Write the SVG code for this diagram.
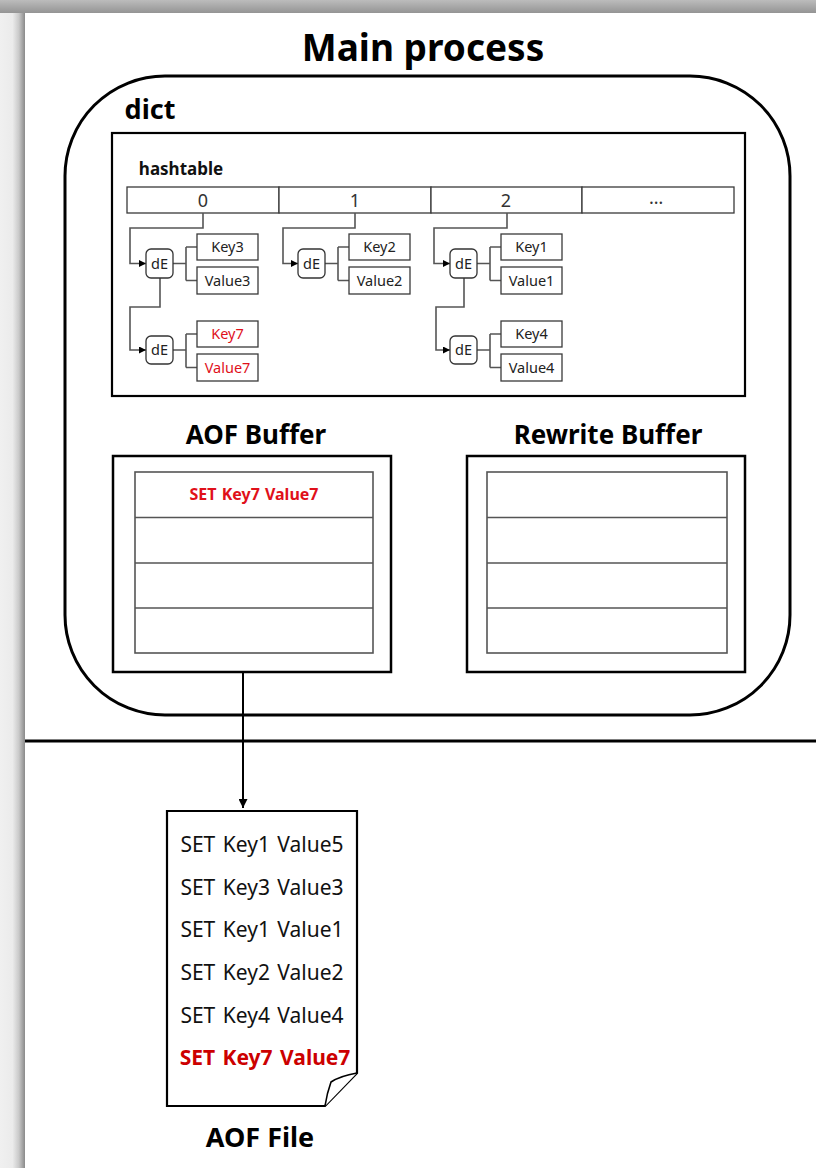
<svg xmlns="http://www.w3.org/2000/svg" width="816" height="1168" viewBox="0 0 816 1168">
<defs>
<linearGradient id="gTop" x1="0" y1="0" x2="0" y2="1"><stop offset="0" stop-color="#bcbcbc"/><stop offset="1" stop-color="#949494"/></linearGradient>
<linearGradient id="gLeft" x1="0" y1="0" x2="1" y2="0"><stop offset="0" stop-color="#f0f0f0"/><stop offset="0.5" stop-color="#ebebeb"/><stop offset="0.75" stop-color="#cacaca"/><stop offset="1" stop-color="#8a8a8a"/></linearGradient>
<marker id="arrS" viewBox="0 0 10 10" refX="10" refY="5" markerWidth="7" markerHeight="7" markerUnits="userSpaceOnUse" orient="auto"><path d="M0,0 L10,5 L0,10 Z" fill="#000"/></marker>
<marker id="arrL" viewBox="0 0 10 10" refX="10" refY="5" markerWidth="9" markerHeight="9" markerUnits="userSpaceOnUse" orient="auto"><path d="M0,0 L10,5 L0,10 Z" fill="#000"/></marker>
</defs>
<style>
text{font-family:"Noto Sans","Open Sans","Liberation Sans",sans-serif;text-anchor:middle}
.b{font-weight:bold}
.cell{fill:#fff;stroke:#3a3a3a;stroke-width:1.3}
.de{fill:#fff;stroke:#333;stroke-width:1.3}
.kv{font-size:14.5px;fill:#222}
.red{fill:#e0101a}
.row{fill:none;stroke:#555;stroke-width:1.6}
.outer{fill:#fff;stroke:#000;stroke-width:2.5}
.conn{fill:none;stroke:#555;stroke-width:1.6}
.ln{font-size:21px;fill:#111;word-spacing:2px}
</style>
<rect x="0" y="0" width="816" height="1168" fill="#fff"/>
<rect x="0" y="0" width="25" height="1168" fill="url(#gLeft)"/>
<rect x="0" y="0" width="816" height="13" fill="url(#gTop)"/>

<g id="main-process">
<rect x="65" y="76" width="725" height="639" rx="100" ry="100" fill="none" stroke="#000" stroke-width="3"/>
<text x="423" y="61" class="b" font-size="37">Main process</text>
</g>
<line x1="25" y1="741" x2="816" y2="741" stroke="#000" stroke-width="3"/>

<g id="dict">
<text x="150" y="119" class="b" font-size="27">dict</text>
<rect x="112" y="133" width="633" height="263" fill="none" stroke="#000" stroke-width="2.2"/>
<text x="181" y="175" class="b" font-size="17" fill="#111">hashtable</text>
</g>

<g id="buckets">
<rect class="cell" x="127" y="187" width="152" height="26"/>
<rect class="cell" x="279" y="187" width="152" height="26"/>
<rect class="cell" x="431" y="187" width="151" height="26"/>
<rect class="cell" x="582" y="187" width="152" height="26"/>
<text x="203" y="207" font-size="18" fill="#333">0</text>
<text x="355" y="207" font-size="18" fill="#333">1</text>
<text x="506" y="207" font-size="18" fill="#333">2</text>
<text x="656" y="204" font-size="18" fill="#333">…</text>
</g>

<g id="connectors">
<path class="conn" d="M203,213 V228 H130 V263.5 H146" marker-end="url(#arrS)"/>
<path class="conn" d="M160,278 V307 H130 V350 H146" marker-end="url(#arrS)"/>
<path class="conn" d="M355,213 V228 H283 V263.5 H298" marker-end="url(#arrS)"/>
<path class="conn" d="M507,213 V228 H434 V263.5 H450" marker-end="url(#arrS)"/>
<path class="conn" d="M464,278 V307 H436 V350 H450" marker-end="url(#arrS)"/>
<path class="conn" d="M173,263.5 H186 M186,247 V280.5 M186,247 H197 M186,280.5 H197"/>
<path class="conn" d="M173,350 H186 M186,334 V367.5 M186,334 H197 M186,367.5 H197"/>
<path class="conn" d="M325,263.5 H338 M338,247 V280.5 M338,247 H349 M338,280.5 H349"/>
<path class="conn" d="M477,263.5 H490 M490,247 V280.5 M490,247 H501 M490,280.5 H501"/>
<path class="conn" d="M477,350 H490 M490,334 V367.5 M490,334 H501 M490,367.5 H501"/>
<line x1="243" y1="672" x2="243" y2="808" stroke="#000" stroke-width="2" marker-end="url(#arrL)"/>
</g>

<g id="entry-key3">
<rect class="de" x="146" y="249" width="27" height="29" rx="5"/>
<text x="159.5" y="269" class="kv">dE</text>
<rect class="cell" x="197" y="234" width="61" height="26"/>
<text x="227.5" y="252" class="kv">Key3</text>
<rect class="cell" x="197" y="267" width="61" height="27"/>
<text x="227.5" y="286" class="kv">Value3</text>
</g>
<g id="entry-key7">
<rect class="de" x="146" y="336" width="27" height="28" rx="5"/>
<text x="159.5" y="355" class="kv">dE</text>
<rect class="cell" x="197" y="321" width="61" height="26"/>
<text x="227.5" y="339" class="kv red">Key7</text>
<rect class="cell" x="197" y="354" width="61" height="27"/>
<text x="227.5" y="373" class="kv red">Value7</text>
</g>
<g id="entry-key2">
<rect class="de" x="298" y="249" width="27" height="29" rx="5"/>
<text x="311.5" y="269" class="kv">dE</text>
<rect class="cell" x="349" y="234" width="61" height="26"/>
<text x="379.5" y="252" class="kv">Key2</text>
<rect class="cell" x="349" y="267" width="61" height="27"/>
<text x="379.5" y="286" class="kv">Value2</text>
</g>
<g id="entry-key1">
<rect class="de" x="450" y="249" width="27" height="29" rx="5"/>
<text x="463.5" y="269" class="kv">dE</text>
<rect class="cell" x="501" y="234" width="61" height="26"/>
<text x="531.5" y="252" class="kv">Key1</text>
<rect class="cell" x="501" y="267" width="61" height="27"/>
<text x="531.5" y="286" class="kv">Value1</text>
</g>
<g id="entry-key4">
<rect class="de" x="450" y="336" width="27" height="28" rx="5"/>
<text x="463.5" y="355" class="kv">dE</text>
<rect class="cell" x="501" y="321" width="61" height="26"/>
<text x="531.5" y="339" class="kv">Key4</text>
<rect class="cell" x="501" y="354" width="61" height="27"/>
<text x="531.5" y="373" class="kv">Value4</text>
</g>

<g id="aof-buffer">
<text x="256" y="444" class="b" font-size="26">AOF Buffer</text>
<rect class="outer" x="113" y="456" width="278" height="216"/>
<rect class="row" x="135" y="472" width="238" height="181"/>
<path class="row" d="M135,517.5 H373 M135,563 H373 M135,608 H373"/>
<text x="254" y="500" class="b red" font-size="16" style="word-spacing:1px">SET Key7 Value7</text>
</g>

<g id="rewrite-buffer">
<text x="608" y="444" class="b" font-size="26">Rewrite Buffer</text>
<rect class="outer" x="467" y="456" width="278" height="216"/>
<rect class="row" x="487" y="472" width="240" height="181"/>
<path class="row" d="M487,517.5 H727 M487,563 H727 M487,608 H727"/>
</g>

<g id="aof-file">
<path d="M167,811 H357 V1073 L325,1106 H167 Z" fill="#fff" stroke="#000" stroke-width="2.2" stroke-linejoin="miter"/>
<path d="M357,1073 Q340,1076 331,1082 Q327,1093 325,1106" fill="#fff" stroke="#000" stroke-width="1.6"/>
<text x="262" y="852" class="ln">SET Key1 Value5</text>
<text x="262" y="894.5" class="ln">SET Key3 Value3</text>
<text x="262" y="937" class="ln">SET Key1 Value1</text>
<text x="262" y="980" class="ln">SET Key2 Value2</text>
<text x="262" y="1022.5" class="ln">SET Key4 Value4</text>
<text x="265" y="1065" class="ln b" style="fill:#cc0000">SET Key7 Value7</text>
<text x="260" y="1147" class="b" font-size="27">AOF File</text>
</g>
</svg>
